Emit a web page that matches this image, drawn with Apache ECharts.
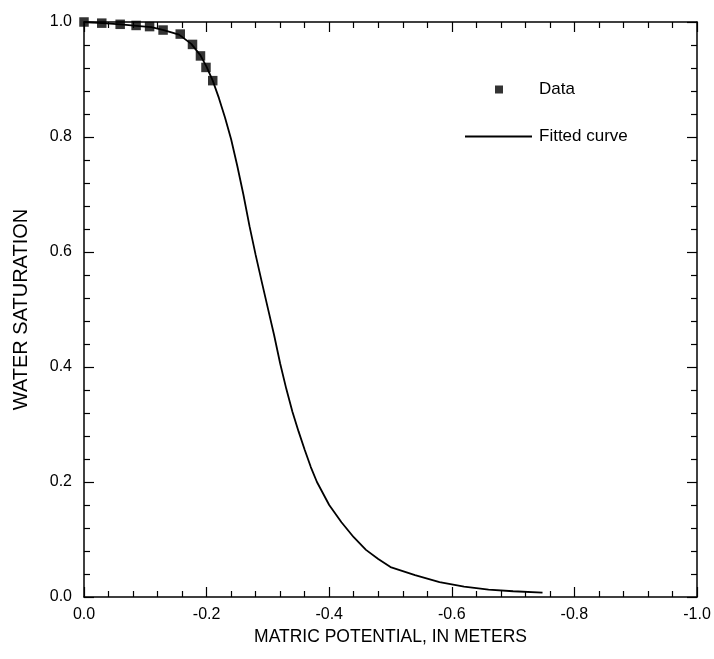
<!DOCTYPE html>
<html>
<head>
<meta charset="utf-8">
<script src="https://cdn.jsdelivr.net/npm/echarts@6/dist/echarts.min.js"></script>
<style>html,body{margin:0;padding:0;background:#fff}#c{width:714px;height:659px}</style>
</head>
<body>
<div id="c"></div>
<script>
// Measured data (matric potential in meters, water saturation)
const dataX = [0.0, -0.029, -0.059, -0.085, -0.107, -0.129, -0.157, -0.177, -0.190, -0.199, -0.210];
const dataY = [1.0, 0.998, 0.996, 0.994, 0.992, 0.986, 0.979, 0.961, 0.941, 0.921, 0.898];

// Fitted curve
const fitX = [0.0, -0.03, -0.06, -0.09, -0.11, -0.13, -0.155, -0.175, -0.19, -0.20, -0.21, -0.22, -0.23, -0.24, -0.25, -0.26, -0.27, -0.28, -0.29, -0.30, -0.31, -0.32, -0.33, -0.34, -0.35, -0.36, -0.37, -0.38, -0.40, -0.42, -0.44, -0.46, -0.48, -0.50, -0.54, -0.58, -0.62, -0.66, -0.70, -0.748];
const fitY = [1.0, 0.998, 0.996, 0.993, 0.991, 0.986, 0.978, 0.962, 0.942, 0.922, 0.898, 0.868, 0.834, 0.796, 0.750, 0.700, 0.645, 0.595, 0.548, 0.502, 0.456, 0.406, 0.362, 0.322, 0.288, 0.256, 0.226, 0.200, 0.160, 0.130, 0.104, 0.082, 0.066, 0.052, 0.038, 0.026, 0.018, 0.013, 0.010, 0.0075];

const xTicks = [0.0, -0.2, -0.4, -0.6, -0.8, -1.0];
const yTicks = [0.0, 0.2, 0.4, 0.6, 0.8, 1.0];

const FONT = '"Liberation Sans", Arial, Helvetica, sans-serif';
const INK = '#000';
const zip = (a, b) => a.map((v, i) => [v, b[i]]);

const axisCommon = {
  axisLine: { show: true, onZero: false, lineStyle: { color: INK, width: 1.5 } },
  axisTick: { show: true, inside: true, length: 10, lineStyle: { color: INK, width: 1.2 } },
  minorTick: { show: true, splitNumber: 5, length: 6, lineStyle: { color: INK, width: 1.2 } },
  splitLine: { show: false }
};

const chart = echarts.init(document.getElementById('c'), null, { renderer: 'canvas' });
chart.setOption({
  animation: false,
  backgroundColor: '#fff',
  grid: { left: 84, right: 17, top: 22, bottom: 62 },
  legend: [
    {
      data: ['Data'], left: 490, top: 76, icon: 'rect', itemWidth: 8, itemHeight: 8,
      textStyle: { fontFamily: FONT, fontSize: 17, color: INK, padding: [0, 0, 0, 31] }
    },
    {
      data: ['Fitted curve'], left: 460, top: 123, icon: 'rect', itemWidth: 67, itemHeight: 2,
      textStyle: { fontFamily: FONT, fontSize: 17, color: INK, padding: [0, 0, 0, 2] }
    }
  ],
  xAxis: [
    Object.assign({
      type: 'value', position: 'bottom', min: -1.0, max: 0, interval: 0.2, inverse: true,
      name: 'MATRIC POTENTIAL, IN METERS', nameLocation: 'middle', nameGap: 28,
      nameTextStyle: { fontFamily: FONT, fontSize: 17.5, color: INK },
      axisLabel: { margin: 10, fontFamily: FONT, fontSize: 16, color: INK,
        formatter: v => (Math.abs(v) < 1e-9 ? 0 : v).toFixed(1) }
    }, axisCommon),
    Object.assign({
      type: 'value', position: 'top', min: -1.0, max: 0, interval: 0.2, inverse: true,
      axisLabel: { show: false }
    }, axisCommon)
  ],
  yAxis: [
    Object.assign({
      type: 'value', position: 'left', min: 0, max: 1.0, interval: 0.2,
      name: 'WATER SATURATION', nameLocation: 'middle', nameGap: 53,
      nameTextStyle: { fontFamily: FONT, fontSize: 20, color: INK },
      axisLabel: { margin: 12, fontFamily: FONT, fontSize: 16, color: INK,
        formatter: v => v.toFixed(1) }
    }, axisCommon),
    Object.assign({
      type: 'value', position: 'right', min: 0, max: 1.0, interval: 0.2,
      axisLabel: { show: false }
    }, axisCommon)
  ],
  series: [
    {
      name: 'Fitted curve', type: 'line', data: zip(fitX, fitY), showSymbol: false, symbol: 'none',
      lineStyle: { color: INK, width: 1.8 }, itemStyle: { color: INK }, z: 2
    },
    {
      name: 'Data', type: 'scatter', data: zip(dataX, dataY), symbol: 'rect', symbolSize: 9.5,
      itemStyle: { color: INK }, z: 3
    }
  ]
});
</script>
</body>
</html>
